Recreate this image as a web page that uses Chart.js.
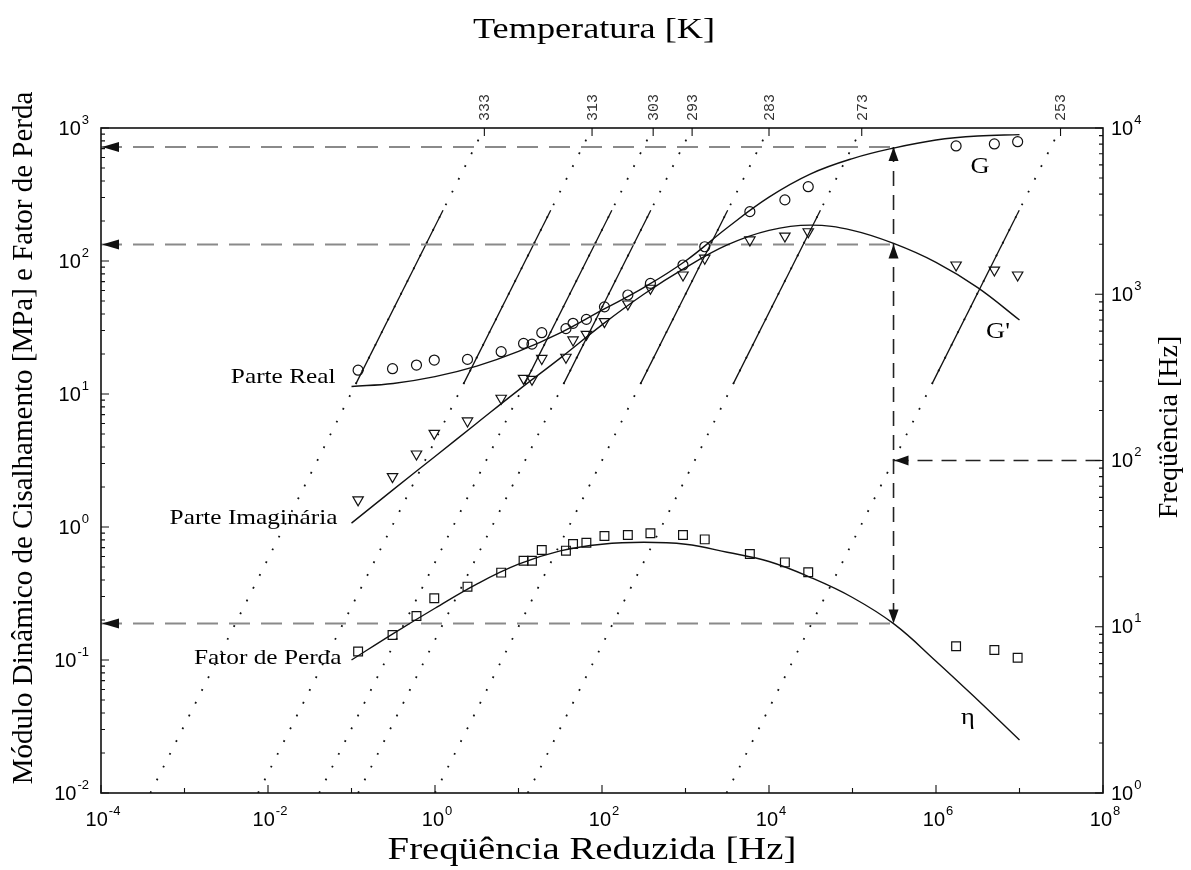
<!DOCTYPE html>
<html><head><meta charset="utf-8">
<script src="https://cdn.jsdelivr.net/npm/chart.js@4.4.0/dist/chart.umd.min.js"></script>
<style>html,body{margin:0;padding:0;background:#fff}#wrap{width:1191px;height:870px;position:relative}</style>
</head><body><div id="wrap"><canvas id="c"></canvas></div>
<script>
// ---------- data ----------
const reducedFreq = [0.12,0.31,0.60,0.98,2.45,6.2,11.5,14.5,19,37,45,65,107,204,380,933,1700,5900,15500,29500,1.74e6,5.0e6,9.5e6];
const realModulus = [15.1,15.5,16.5,18.0,18.2,20.8,24.0,23.7,28.9,31.0,34.0,36.4,45.2,55.5,67.9,93.3,128,235,288,362,733,759,789];
const imagModulus = [1.60,2.39,3.54,5.06,6.27,9.29,13.1,12.9,18.5,18.9,25.5,28.1,35.0,47.5,62.4,78.5,105,144,154,166,93.3,85.5,78.5];
const lossFactor  = [0.116,0.154,0.214,0.291,0.356,0.454,0.558,0.558,0.671,0.664,0.745,0.762,0.855,0.871,0.897,0.871,0.807,0.627,0.542,0.457,0.127,0.119,0.104];

const fitFreq = [0.1,0.316,1,3.16,10,31.6,100,316,1000,3160,1e4,3.16e4,1e5,3.16e5,1e6,3.16e6,1e7];
const fitReal = [11.4,12.0,13.5,16.2,20.9,28.8,42.7,63.1,100,178,302,452,589,708,813,871,891];
const fitImag = [1.07,1.91,3.39,6.03,10.7,18.6,33.1,56.2,89.1,132,170,186,170,135,97.7,63.1,36.0];
const fitLoss = [0.100,0.158,0.245,0.372,0.525,0.661,0.741,0.767,0.741,0.646,0.550,0.417,0.295,0.186,0.098,0.050,0.025];

const temperatures = [333,313,303,293,283,273,253];
const shiftFactors = [3.9e-4,7.6e-3,0.041,0.12,1.0,12.9,3100];   // reduced frequency at 1 Hz
const nomogramFreqRange = [1, 1e4];
const measuredFreqRange = [290, 3200];

const exampleFreq = 100;
const exampleReducedFreq = 3.1e5;
const exampleValues = [720, 133, 0.188];

const xTickExps = [-4,-2,0,2,4,6,8];
const yTickExps = [-2,-1,0,1,2,3];
const y2TickExps = [0,1,2,3,4];

// ---------- datasets ----------
const datasets = [];
const markerCommon = {showLine:false, borderColor:'#111', backgroundColor:'rgba(0,0,0,0)', pointBorderWidth:1.2, yAxisID:'y'};
datasets.push(Object.assign({label:'G', data: reducedFreq.map((f,i)=>({x:f,y:realModulus[i]})), pointStyle:'circle', pointRadius:5}, markerCommon));
datasets.push(Object.assign({label:"G''", data: reducedFreq.map((f,i)=>({x:f,y:imagModulus[i]})), pointStyle:'triangle', pointRotation:180, pointRadius:6}, markerCommon));
datasets.push(Object.assign({label:'eta', data: reducedFreq.map((f,i)=>({x:f,y:lossFactor[i]})), pointStyle:'rect', pointRadius:6.2}, markerCommon));

const fitCommon = {borderColor:'#111', borderWidth:1.4, pointRadius:0, tension:0.4, yAxisID:'y', fill:false};
datasets.push(Object.assign({label:'fitG', data: fitFreq.map((f,i)=>({x:f,y:fitReal[i]}))}, fitCommon));
datasets.push(Object.assign({label:'fitG2', data: fitFreq.map((f,i)=>({x:f,y:fitImag[i]}))}, fitCommon));
datasets.push(Object.assign({label:'fitEta', data: fitFreq.map((f,i)=>({x:f,y:fitLoss[i]}))}, fitCommon));

// example dashed lines
exampleValues.forEach((v,i)=>{
  datasets.push({label:'exH'+i, data:[{x:1e-4,y:v},{x:exampleReducedFreq,y:v}], borderColor:'#8a8a8a', borderWidth:2, borderDash:[21,11], pointRadius:0, yAxisID:'y'});
});
datasets.push({label:'exV', data:[{x:exampleReducedFreq,y:exampleValues[0]},{x:exampleReducedFreq,y:exampleValues[2]}], borderColor:'#222', borderWidth:1.6, borderDash:[15,9], pointRadius:0, yAxisID:'y'});
datasets.push({label:'exF', data:[{x:exampleReducedFreq,y:exampleFreq},{x:1e8,y:exampleFreq}], borderColor:'#222', borderWidth:1.6, borderDash:[15,9], pointRadius:0, yAxisID:'y2'});

// isotherms (dotted) and measured ranges (solid)
shiftFactors.forEach((aT,i)=>{
  datasets.push({label:'iso'+temperatures[i], data: nomogramFreqRange.map(f=>({x:aT*f,y:f})), borderColor:'#111', borderWidth:1.8, borderDash:[1.8,12.5], pointRadius:0, yAxisID:'y2'});
  datasets.push({label:'seg'+temperatures[i], data: measuredFreqRange.map(f=>({x:aT*f,y:f})), borderColor:'#111', borderWidth:1.3, pointRadius:0, yAxisID:'y2'});
});

// ---------- decoration plugin ----------
const SANS = '"Liberation Sans", Arial, sans-serif';
const SERIF = '"Liberation Serif", "Times New Roman", serif';
function powLabel(ctx, exp, x, y, align){
  const base='10', sup=String(exp);
  ctx.font='20px '+SANS; const wb=ctx.measureText(base).width;
  ctx.font='13px '+SANS; const ws=ctx.measureText(sup).width;
  const tot=wb+ws+1;
  const x0 = align==='right'? x-tot : (align==='center'? x-tot/2 : x);
  ctx.textAlign='left'; ctx.textBaseline='middle';
  ctx.font='20px '+SANS; ctx.fillText(base,x0,y);
  ctx.font='13px '+SANS; ctx.fillText(sup,x0+wb+1,y-9);
}
function stretchText(ctx, text, x, y, font, sx, align, rot){
  ctx.save(); ctx.translate(x,y); if(rot) ctx.rotate(rot); ctx.scale(sx,1);
  ctx.font=font; ctx.textAlign=align||'center'; ctx.textBaseline='middle';
  ctx.fillText(text,0,0); ctx.restore();
}
function arrowHead(ctx, x, y, dir, len, half){
  ctx.beginPath();
  if(dir==='left'){ctx.moveTo(x,y);ctx.lineTo(x+len,y-half);ctx.lineTo(x+len,y+half);}
  if(dir==='up'){ctx.moveTo(x,y);ctx.lineTo(x-half,y+len);ctx.lineTo(x+half,y+len);}
  if(dir==='down'){ctx.moveTo(x,y);ctx.lineTo(x-half,y-len);ctx.lineTo(x+half,y-len);}
  ctx.closePath(); ctx.fill();
}
const decor = {
  id:'decor',
  afterDraw(chart){
    const {ctx, chartArea:a, scales} = chart;
    const sx=scales.x, sy=scales.y, sy2=scales.y2, st=scales.xTop;
    ctx.save();
    ctx.fillStyle='#111'; ctx.strokeStyle='#111';
    // ticks
    ctx.lineWidth=1.1; ctx.beginPath();
    for(let e=-2;e<=3;e++) for(let m=1;m<=9;m++){ const v=m*Math.pow(10,e); if(v>1000.0001) break; const p=sy.getPixelForValue(v); ctx.moveTo(a.left,p); ctx.lineTo(a.left+(m===1?8:4),p); }
    for(let e=0;e<=4;e++) for(let m=1;m<=9;m++){ const v=m*Math.pow(10,e); if(v>10000.0001) break; const p=sy2.getPixelForValue(v); ctx.moveTo(a.right,p); ctx.lineTo(a.right-(m===1?8:4),p); }
    for(let e=-4;e<=8;e++){ const p=sx.getPixelForValue(Math.pow(10,e)); ctx.moveTo(p,a.bottom); ctx.lineTo(p,a.bottom-(e%2===0?8:5)); }
    shiftFactors.forEach(aT=>{ const p=st.getPixelForValue(aT*nomogramFreqRange[1]); ctx.moveTo(p,a.top); ctx.lineTo(p,a.top+8); });
    ctx.stroke();
    // frame
    ctx.lineWidth=1.6; ctx.strokeRect(a.left,a.top,a.right-a.left,a.bottom-a.top);
    // tick labels
    ctx.fillStyle='#000';
    yTickExps.forEach(e=>powLabel(ctx,e,89,sy.getPixelForValue(Math.pow(10,e))+1,'right'));
    y2TickExps.forEach(e=>powLabel(ctx,e,1111,sy2.getPixelForValue(Math.pow(10,e))+1,'left'));
    xTickExps.forEach(e=>powLabel(ctx,e,sx.getPixelForValue(Math.pow(10,e))+2,a.bottom+27,'center'));
    // temperature labels
    ctx.fillStyle='#333'; ctx.font='15px "Liberation Mono", "DejaVu Sans Mono", monospace';
    temperatures.forEach((T,i)=>{
      const p=st.getPixelForValue(shiftFactors[i]*nomogramFreqRange[1]);
      ctx.save(); ctx.translate(p+1,a.top-7); ctx.rotate(-Math.PI/2);
      ctx.textAlign='left'; ctx.textBaseline='middle'; ctx.fillText(String(T),0,0); ctx.restore();
    });
    // axis titles
    ctx.fillStyle='#000';
    stretchText(ctx,'Temperatura [K]',(a.left+a.right)/2-8,30,'29px '+SERIF,1.25,'center');
    stretchText(ctx,'Freqüência Reduzida [Hz]',(a.left+a.right)/2-10,851,'31px '+SERIF,1.25,'center');
    stretchText(ctx,'Módulo Dinâmico de Cisalhamento [MPa] e Fator de Perda',24,438,'29px '+SERIF,1,'center',-Math.PI/2);
    stretchText(ctx,'Freqüência [Hz]',1170,427,'28px '+SERIF,1,'center',-Math.PI/2);
    // curve annotations
    const x0=sx.getPixelForValue(fitFreq[0]);
    stretchText(ctx,'Parte Real',x0-16,sy.getPixelForValue(fitReal[0])-9,'22px '+SERIF,1.15,'right');
    stretchText(ctx,'Parte Imaginária',x0-14,sy.getPixelForValue(fitImag[0])-5,'22px '+SERIF,1.15,'right');
    stretchText(ctx,'Fator de Perda',x0-10,sy.getPixelForValue(fitLoss[0])-2,'22px '+SERIF,1.15,'right');
    stretchText(ctx,'G',980,167,'24px '+SERIF,1.1,'center');
    stretchText(ctx,"G'",998,332,'24px '+SERIF,1.1,'center');
    stretchText(ctx,'η',968,718,'24px '+SERIF,1.1,'center');
    // arrow heads
    ctx.fillStyle='#111';
    const xe=sx.getPixelForValue(exampleReducedFreq);
    exampleValues.forEach(v=>arrowHead(ctx,a.left+1,sy.getPixelForValue(v),'left',17,5));
    arrowHead(ctx,xe,sy.getPixelForValue(exampleValues[0]),'up',14,5);
    arrowHead(ctx,xe,sy.getPixelForValue(exampleValues[1]),'up',14,5);
    arrowHead(ctx,xe,sy.getPixelForValue(exampleValues[2]),'down',14,5);
    arrowHead(ctx,xe+1,sy2.getPixelForValue(exampleFreq),'left',14,5);
    ctx.restore();
  }
};

const hidden = {ticks:{display:false}, grid:{display:false}, border:{display:false}};
new Chart(document.getElementById('c'), {
  type:'line',
  data:{datasets},
  options:{
    responsive:true, maintainAspectRatio:false, animation:false, events:[],
    layout:{padding:0},
    plugins:{legend:{display:false}, tooltip:{enabled:false}, title:{display:false}},
    scales:{
      x:Object.assign({type:'logarithmic', position:'bottom', min:1e-4, max:1e8, afterFit:s=>{s.height=77;}}, hidden),
      xTop:Object.assign({type:'logarithmic', position:'top', min:1e-4, max:1e8, afterFit:s=>{s.height=128;}}, hidden),
      y:Object.assign({type:'logarithmic', position:'left', min:1e-2, max:1e3, afterFit:s=>{s.width=101;}}, hidden),
      y2:Object.assign({type:'logarithmic', position:'right', min:1, max:1e4, afterFit:s=>{s.width=88;}}, hidden)
    }
  },
  plugins:[decor]
});
</script></body></html>
